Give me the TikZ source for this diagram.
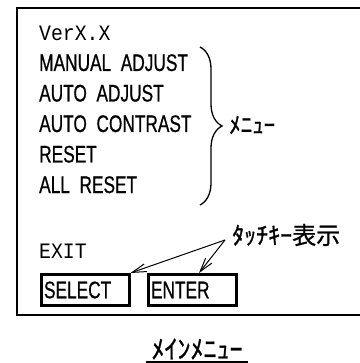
\documentclass[tikz,border=0pt]{standalone}
\usepackage{fontspec}
\usetikzlibrary{arrows.meta,decorations.pathreplacing}
\newfontfamily\menufont[FakeStretch=0.72,FakeBold=0.6]{Liberation Sans}
\newfontfamily\verfont[FakeStretch=0.9]{Liberation Mono}
\newfontfamily\jpfont[FakeBold=1]{Noto Sans CJK JP}
\newcommand{\pxsize}{1pt}
\newcommand{\itemfont}{\menufont\fontsize{24pt}{24pt}\selectfont}
\newcommand{\monofont}{\verfont\fontsize{22pt}{22pt}\selectfont}
\newcommand{\menuitem}[4]{
	\node[anchor=base west, inner sep=0pt, font=#4] (#1) at (39,#2) {#3};
}

\begin{document}
\begin{tikzpicture}[x=\pxsize,y=-\pxsize,
	key/.style={draw, line width=3pt, anchor=west, minimum height=31pt, text width=82pt, inner xsep=3pt, inner ysep=0pt, align=left, font=\itemfont},
	jp/.style={inner sep=0pt, font=\jpfont\fontsize{#1}{#1}\selectfont},
	barb/.style={-{Straight Barb[length=14pt,width=8pt]}, line width=1pt}]
	\useasboundingbox (0,0) rectangle (359,363);
	\draw[line width=1.5pt] (361,8) -- (17,8) -- (17,315) -- (361,315);

	\menuitem{Ver}{40.5}{VerX.X}{\monofont}
	\menuitem{Manual}{71}{MANUAL\ \ ADJUST}{\itemfont}
	\menuitem{Auto}{101.5}{AUTO\ \ ADJUST}{\itemfont}
	\menuitem{Contrast}{132}{AUTO\ \ CONTRAST}{\itemfont}
	\menuitem{Reset}{162.5}{RESET}{\itemfont}
	\menuitem{AllReset}{193}{ALL\ \ RESET}{\itemfont}
	\menuitem{Exit}{258}{EXIT}{\monofont}

	\coordinate (BraceTop) at (200,47);
	\coordinate (BraceBot) at (200,205);
	\draw[decorate, decoration={brace,amplitude=22pt}, line width=1.3pt] (BraceTop) -- (BraceBot);
	\node[jp=23pt, anchor=west] (Menu) at (229,125) {ﾒﾆｭｰ};

	\node[key] (Sel) at (39.5,290) {SELECT};
	\node[key] (Ent) at (146.5,290) {ENTER};
	\node[jp=24pt, anchor=west] (Tag) at (232,235) {ﾀｯﾁｷｰ表示};
	\coordinate (Fork) at (225,240);
	\draw[barb] (Fork) -- (Sel.north east);
	\draw[barb] (Fork) -- ([xshift=7pt]Ent.north);

	\node[jp=26pt, inner xsep=5pt] (Title) at (197,349) {ﾒｲﾝﾒﾆｭｰ};
	\coordinate (Rule) at (0,362);
	\draw[line width=2pt] (Title.west |- Rule) -- (Title.east |- Rule);
\end{tikzpicture}
\end{document}
